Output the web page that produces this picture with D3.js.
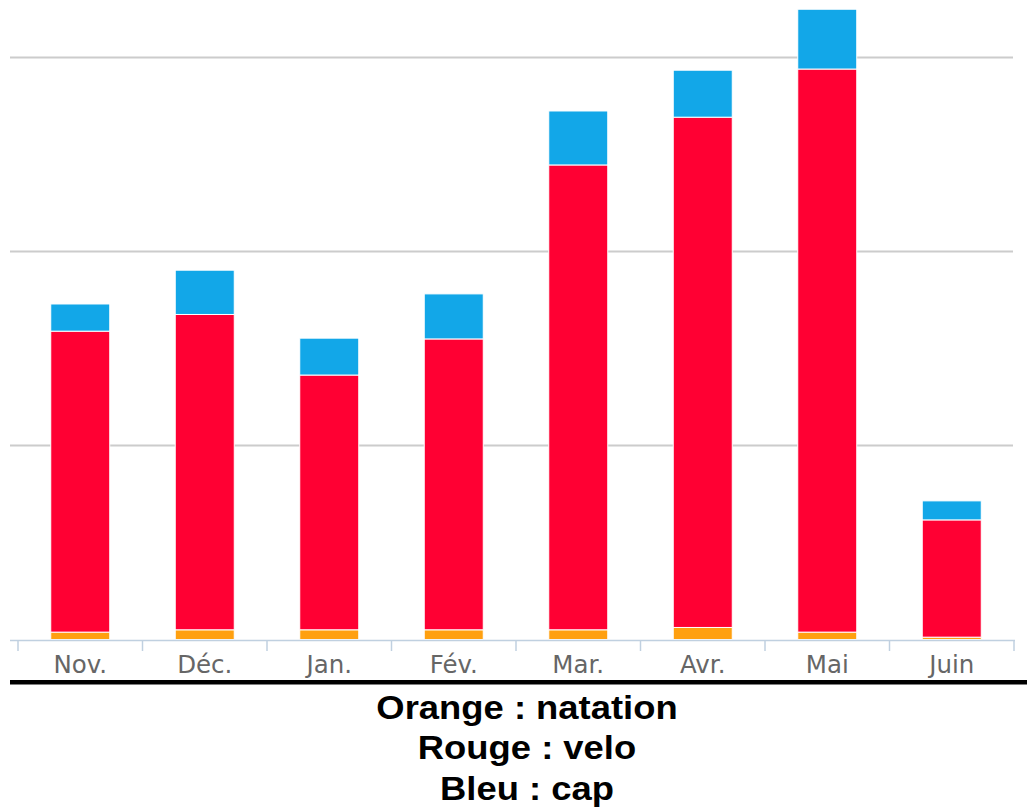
<!DOCTYPE html>
<html><head><meta charset="utf-8">
<script src="https://cdn.jsdelivr.net/npm/d3@7"></script>
<style>html,body{margin:0;padding:0;background:#fff;}svg{display:block;}</style>
</head><body>
<svg id="chart" width="1027" height="812"></svg>
<script>
const categories = ["Nov.", "Déc.", "Jan.", "Fév.", "Mar.", "Avr.", "Mai", "Juin"];
const natation = [0.19, 0.25, 0.25, 0.25, 0.25, 0.31, 0.19, 0.06];
const velo = [7.75, 8.12, 6.56, 7.49, 11.97, 13.14, 14.50, 3.02];
const cap = [0.70, 1.14, 0.95, 1.16, 1.39, 1.21, 1.54, 0.49];
const gridValues = [0, 5, 10, 15];
const seriesNames = ["natation", "velo", "cap"];
const seriesColors = ["#FFA010", "#FF0033", "#12A7E8"];
const legendLines = ["Orange : natation", "Rouge : velo", "Bleu : cap"];

const svg = d3.select("#chart");
const x = d3.scaleBand().domain(categories).range([18, 1014]).paddingInner(0.526).paddingOuter(0.263);
const y = d3.scaleLinear().domain([0, 15]).range([639.5, 57]);

const table = categories.map((c, i) => ({cat: c, natation: natation[i], velo: velo[i], cap: cap[i]}));
const stacked = d3.stack().keys(seriesNames)(table);

// gridlines
svg.append("g").selectAll("line").data(gridValues.filter(v => v > 0)).join("line")
  .attr("x1", 10).attr("x2", 1013)
  .attr("y1", d => Math.round(y(d)) + 0.5).attr("y2", d => Math.round(y(d)) + 0.5)
  .attr("stroke", "#cccccc").attr("stroke-width", 2);

// bars
svg.append("g").selectAll("g").data(stacked).join("g")
  .attr("fill", (d, i) => seriesColors[i])
  .selectAll("rect").data(d => d).join("rect")
  .attr("x", d => x(d.data.cat))
  .attr("width", x.bandwidth())
  .attr("y", d => y(d[1]))
  .attr("height", d => y(d[0]) - y(d[1]))
  .attr("stroke", "#ffffff").attr("stroke-width", 1);

// x axis line and ticks at band boundaries
const axisG = svg.append("g");
axisG.append("line").attr("x1", 10).attr("x2", 1015).attr("y1", 640.5).attr("y2", 640.5)
  .attr("stroke", "#C0D0E0").attr("stroke-width", 1.5);
const step = x.step();
const bounds = d3.range(categories.length + 1).map(i => x.range()[0] + i * step);
axisG.selectAll("line.tick").data(bounds).join("line").attr("class", "tick")
  .attr("x1", d => d).attr("x2", d => d).attr("y1", 640).attr("y2", 651)
  .attr("stroke", "#C0D0E0").attr("stroke-width", 1.5);
axisG.selectAll("text").data(categories).join("text")
  .attr("x", d => x(d) + x.bandwidth() / 2).attr("y", 673)
  .attr("text-anchor", "middle")
  .attr("font-family", "DejaVu Sans").attr("font-size", 24.5)
  .attr("fill", "#666666").text(d => d);

// thick black line
svg.append("rect").attr("x", 10).attr("y", 680).attr("width", 1017).attr("height", 4.5).attr("fill", "#000");

// legend text
const lg = svg.append("g").attr("transform", "translate(527,0) scale(1.12,1)");
lg.selectAll("text").data(legendLines).join("text")
  .attr("x", 0).attr("y", (d, i) => 719 + i * 40.5)
  .attr("text-anchor", "middle")
  .attr("font-family", "Liberation Sans, Arial, sans-serif").attr("font-weight", "bold")
  .attr("font-size", 32.5).attr("fill", "#000").text(d => d);
</script>
</body></html>
